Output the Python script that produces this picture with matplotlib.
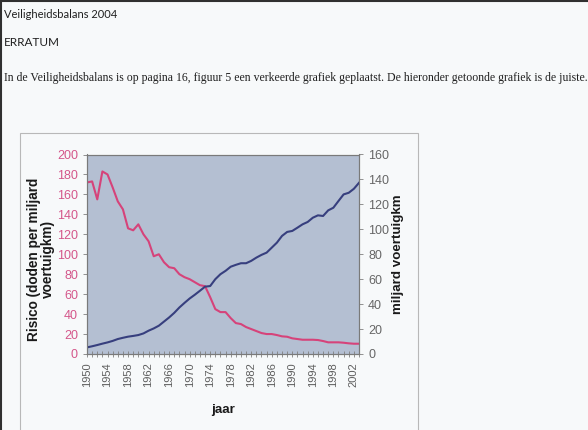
import numpy as np
import matplotlib.pyplot as plt
from matplotlib.patches import Rectangle
from matplotlib.lines import Line2D

# data (1950-2003)
years = list(range(1950, 2004))
risico = [172, 173, 155, 183, 180, 167, 153, 145, 126, 124,
          130, 120, 113, 98, 100, 92, 87, 86, 80, 77,
          75, 72, 69, 68, 57, 45, 42, 42, 36, 31,
          30, 27, 25, 23, 21, 20, 20, 19, 17.7, 17.3,
          15.7, 15, 14.3, 14.3, 14.3, 14, 13, 11.7, 11.7, 11.7,
          11.3, 10.7, 10.3, 10.3]
voertuigkm = [5.3, 6.2, 7.2, 8.3, 9.3, 10.5, 12, 13, 13.9, 14.5,
              15.2, 16.5, 18.7, 20.5, 22.7, 26, 29.3, 33, 37.3, 41,
              44.5, 47.5, 50.7, 54, 54.5, 60, 64, 66.7, 70, 71.5,
              72.8, 72.8, 74.7, 77.3, 79.5, 81.3, 85.3, 89.3, 94.7, 97.9,
              98.7, 101.3, 104, 105.9, 109.3, 111.2, 110.7, 115.2, 117.3, 122.7,
              128, 129.3, 132.5, 137.3]
year_labels = [str(y) for y in years[::4]]

W, H = 588, 430
fig = plt.figure(figsize=(W / 100, H / 100), dpi=100)
fig.patch.set_facecolor("#f7f9fa")


def fx(px):
    return px / W


def fy(py):
    return 1 - py / H


# page border and chart frame
fig.add_artist(Line2D([0, 1], [fy(1), fy(1)], color="#303030", lw=1.5))
fig.add_artist(Line2D([fx(1), fx(1)], [0, 1], color="#303030", lw=1.5))
fig.add_artist(Rectangle((fx(20), -0.05), fx(398), fy(133) + 0.05,
                         fill=False, edgecolor="#b8b8b8", lw=0.8))

# document text
fig.text(fx(4), fy(14), "Veiligheidsbalans 2004", family="Lato", fontsize=8,
         color="#202020", va="center")
fig.text(fx(4), fy(43), "ERRATUM", family="Lato", fontsize=8.5,
         color="#202020", va="center")
fig.text(fx(4), fy(78), "In de Veiligheidsbalans is op pagina 16, figuur 5 een verkeerde "
         "grafiek geplaatst. De hieronder getoonde grafiek is de juiste.",
         family="Liberation Serif", fontsize=8.45, color="#202020", va="center")

# chart
ax = fig.add_axes([fx(87), fy(354), fx(272), (354 - 154.5) / H])
ax.set_facecolor("#b4bfd2")
x = np.arange(len(years))
ax.plot(x, risico, color="#d6437a", lw=1.5)
ax.set_xlim(0, len(years) - 1)
ax.set_ylim(0, 200)
ax.set_yticks(range(0, 201, 20))
ax.tick_params(axis="y", colors="#808080", labelcolor="#d4568a", labelsize=9,
               length=3, width=0.6)
for lab in ax.get_yticklabels():
    lab.set_fontfamily("Liberation Sans")

ax.set_xticks(x[::4])
ax.set_xticklabels(year_labels, rotation=90, fontsize=8, family="Liberation Sans",
                   color="#5e5e5e")
ax.set_xticks(x, minor=True)
ax.tick_params(axis="x", which="both", direction="inout", length=5, width=0.6,
               colors="#808080")
ax.tick_params(axis="x", which="major", labelcolor="#5e5e5e")

ax2 = ax.twinx()
ax2.plot(x, voertuigkm, color="#373f7e", lw=1.5)
ax2.set_ylim(0, 160)
ax2.set_yticks(range(0, 161, 20))
ax2.tick_params(axis="y", colors="#808080", labelcolor="#666666", labelsize=9,
                length=3, width=0.6)
for lab in ax2.get_yticklabels():
    lab.set_fontfamily("Liberation Sans")

for a in (ax, ax2):
    for s in a.spines.values():
        s.set_color("#7a7a7a")
        s.set_linewidth(0.8)

fig.text(fx(41), fy(259), "Risico (doden per miljard\nvoertuigkm)", rotation=90,
         ha="center", va="center", family="Liberation Sans", fontweight="bold",
         fontsize=9.8, color="#1a1a1a", linespacing=1.0)
fig.text(fx(398), fy(254), "miljard voertuigkm", rotation=90, ha="center",
         va="center", family="Liberation Sans", fontweight="bold", fontsize=9.6,
         color="#1a1a1a")
fig.text(fx(223), fy(410), "jaar", ha="center", va="center",
         family="Liberation Sans", fontweight="bold", fontsize=9.6, color="#1a1a1a")

fig.savefig("out.png", dpi=100, facecolor=fig.get_facecolor())
